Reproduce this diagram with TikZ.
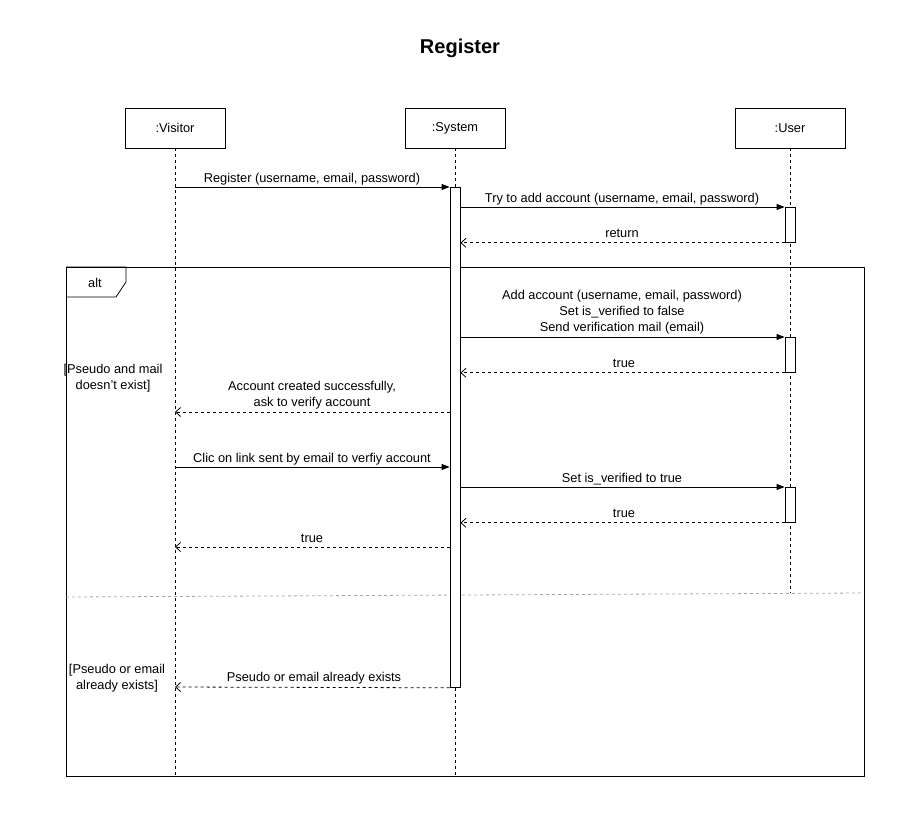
\documentclass[tikz,border=0pt]{standalone}
\usepackage{fontspec}
\setmainfont{Liberation Sans}
\usetikzlibrary{arrows.meta}
\begin{document}
\begin{tikzpicture}[x=1pt,y=-1pt,
  lbl/.style={font=\fontsize{12.8}{15.8}\selectfont, align=center, inner sep=0pt},
  obj/.style={draw, fill=white, minimum height=40pt, inner sep=0pt, font=\fontsize{12.8}{15}\selectfont},
  life/.style={dash pattern=on 3pt off 3pt, line width=0.8pt},
  act/.style={draw, fill=white, minimum width=10pt, inner sep=0pt, line width=0.8pt},
  sync/.style={line width=0.8pt, -{Triangle[length=8pt,width=6pt]}},
  ret/.style={line width=0.8pt, dash pattern=on 3pt off 3pt, -{Straight Barb[length=5pt,width=9pt]}},
  every path/.style={line width=0.8pt}]
\useasboundingbox (0,0) rectangle (921,813);
% title
\node[font=\bfseries\fontsize{20}{24}\selectfont, inner sep=0pt] (title) at (460,48) {Register};
% alt frame
\node[draw, minimum width=798pt, minimum height=509pt, inner sep=0pt, anchor=north west] (alt) at (66,267) {};
\draw (alt.north west) -- ++(60,0) -- ++(0,15) -- ++(-10,15) -- ++(-50,0);
\node[lbl] (altl) at (95,283) {alt};
% objects
\node[obj, minimum width=100pt] (vis) at (175,128) {:Visitor};
\node[obj, minimum width=100pt] (sys) at (455,128) {:System};
\node[obj, minimum width=110pt] (usr) at (790,128) {:User};
\coordinate (visend) at (175,775);
\coordinate (sysend) at (455,775);
\coordinate (usrend) at (790,593);
% lifelines
\draw[life] (vis.south) -- (visend);
\draw[life] (sys.south) -- (sysend);
\draw[life] (usr.south) -- (usrend);
% separator
\coordinate (sepl) at (66,597);
\coordinate (sepr) at (864,593);
\draw[gray!70, dash pattern=on 3pt off 3pt] (sepl) -- (sepr);
% activations
\node[act, minimum height=500pt, anchor=north] (sa) at (455,187) {};
\node[act, minimum height=35pt, anchor=north] (ua1) at (790,207) {};
\node[act, minimum height=35pt, anchor=north] (ua2) at (790,337) {};
\node[act, minimum height=35pt, anchor=north] (ua3) at (790,487) {};
% message points on visitor lifeline
\coordinate (v1) at (175,187);
\coordinate (v2) at (175,412);
\coordinate (v3) at (175,467);
\coordinate (v4) at (175,547);
\coordinate (v5) at (175,687);
% messages
\draw[sync] (v1) -- (sa.north west);
\node[lbl] (l1) at (312,179) {Register (username, email, password)};
\draw[sync] (sa.east |- ua1.north west) -- (ua1.north west);
\node[lbl] (l2) at (622,199) {Try to add account (username, email, password)};
\draw[ret] (ua1.south west) -- (sa.east |- ua1.south west);
\node[lbl] (l3) at (622,233) {return};
\draw[sync] (sa.east |- ua2.north west) -- (ua2.north west);
\node[lbl] (l4) at (622,312) {Add account (username, email, password)\\Set is\_verified to false\\Send verification mail (email)};
\draw[ret] (ua2.south west) -- (sa.east |- ua2.south west);
\node[lbl] (l5) at (624,363) {true};
\draw[ret] (sa.west |- v2) -- (v2);
\node[lbl] (l6) at (312,395) {Account created successfully,\\ask to verify account};
\draw[sync] (v3) -- (sa.west |- v3);
\node[lbl] (l7) at (312,459) {Clic on link sent by email to verfiy account};
\draw[sync] (sa.east |- ua3.north west) -- (ua3.north west);
\node[lbl] (l8) at (622,479) {Set is\_verified to true};
\draw[ret] (ua3.south west) -- (sa.east |- ua3.south west);
\node[lbl] (l9) at (624,513) {true};
\draw[ret] (sa.west |- v4) -- (v4);
\node[lbl] (l10) at (312,538) {true};
\draw[ret] (sa.south west) -- (v5);
\node[lbl] (l11) at (314,678) {Pseudo or email already exists};
% guards
\node[lbl] (g1) at (113,378) {[Pseudo and mail\\doesn't exist]};
\node[lbl] (g2) at (117,678) {[Pseudo or email\\already exists]};
\end{tikzpicture}
\end{document}
